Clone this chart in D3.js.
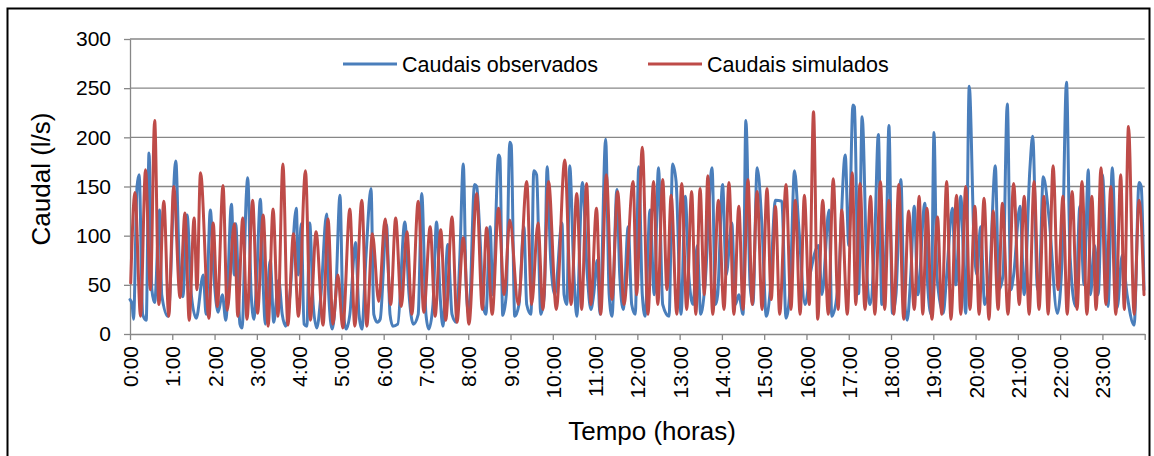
<!DOCTYPE html>
<html>
<head>
<meta charset="utf-8">
<script src="https://cdn.jsdelivr.net/npm/d3@7"></script>
<style>
  html, body { margin: 0; padding: 0; background: #fff; }
  svg { display: block; font-family: "Liberation Sans", Arial, sans-serif; }
</style>
</head>
<body>
<svg id="chart" width="1154" height="456"></svg>
<script>
// Flow series: [minute of day, flow in l/s] at successive turning points
const observados = [[0,35],[3,30],[5,15],[10,150],[13,162],[18,20],[23,14],[27,184],[31,45],[35,32],[42,126],[45,40],[54,18],[65,176],[70,70],[75,38],[81,121],[87,40],[94,16],[104,60],[108,20],[114,126],[119,60],[125,22],[131,40],[136,14],[144,132],[148,60],[150,112],[156,10],[159,6],[165,140],[167,159],[172,40],[176,15],[180,60],[185,137],[189,50],[192,10],[199,75],[204,12],[211,55],[216,20],[221,8],[227,40],[236,128],[239,60],[243,112],[247,10],[251,8],[255,113],[260,30],[265,6],[271,40],[279,122],[282,40],[287,5],[292,40],[298,141],[302,30],[307,5],[312,20],[320,93],[325,20],[329,5],[335,80],[342,148],[346,20],[351,12],[355,15],[364,111],[369,20],[373,8],[380,10],[390,114],[396,40],[402,10],[409,20],[414,143],[420,20],[424,5],[430,30],[435,114],[440,40],[444,8],[451,91],[457,20],[463,12],[468,77],[473,173],[477,50],[481,19],[489,152],[492,150],[497,94],[501,30],[505,20],[511,109],[515,40],[523,182],[525,179],[529,19],[534,40],[539,195],[541,192],[546,18],[552,30],[559,109],[563,30],[569,20],[573,166],[577,162],[583,20],[588,40],[592,170],[597,75],[603,40],[613,113],[616,40],[620,30],[624,171],[630,60],[634,18],[642,154],[649,60],[654,25],[658,40],[663,75],[667,20],[675,198],[680,40],[684,18],[691,147],[695,60],[700,25],[707,109],[712,30],[717,20],[722,170],[727,40],[731,18],[738,126],[744,40],[750,169],[756,30],[765,18],[770,173],[775,155],[782,20],[788,140],[793,60],[799,30],[805,90],[810,20],[816,50],[826,169],[831,30],[834,40],[841,152],[846,60],[854,113],[859,30],[864,40],[870,20],[874,217],[880,50],[884,30],[890,169],[897,108],[903,18],[908,40],[916,136],[925,135],[931,16],[937,50],[943,166],[949,110],[958,30],[965,60],[977,90],[982,40],[992,126],[996,18],[1005,50],[1015,182],[1020,90],[1026,233],[1028,231],[1034,41],[1039,221],[1046,58],[1050,30],[1057,100],[1062,203],[1067,30],[1074,120],[1077,212],[1082,21],[1087,40],[1094,157],[1098,50],[1103,14],[1108,60],[1113,130],[1118,40],[1128,133],[1132,50],[1137,20],[1141,205],[1145,60],[1154,21],[1159,60],[1167,128],[1172,50],[1179,140],[1186,21],[1191,252],[1198,89],[1202,60],[1207,109],[1213,30],[1220,60],[1228,171],[1233,45],[1239,60],[1245,234],[1250,45],[1254,60],[1263,130],[1269,40],[1277,167],[1281,201],[1288,45],[1291,60],[1296,160],[1304,120],[1316,21],[1323,80],[1329,256],[1334,80],[1342,28],[1348,130],[1354,50],[1360,167],[1363,40],[1369,90],[1374,40],[1380,162],[1388,28],[1394,169],[1401,27],[1408,80],[1415,40],[1425,9],[1432,154],[1435,150],[1439,45]];

const simulados = [[1,52],[7,144],[15,18],[22,167],[29,45],[35,217],[41,30],[48,135],[55,18],[62,150],[71,37],[78,123],[84,14],[91,118],[95,45],[100,164],[112,16],[118,113],[124,28],[132,151],[138,24],[148,112],[153,18],[160,118],[166,15],[174,136],[181,21],[189,121],[196,8],[203,127],[210,18],[217,173],[224,9],[232,102],[239,18],[249,166],[256,14],[264,104],[274,9],[281,117],[288,10],[295,60],[302,6],[312,127],[319,8],[329,136],[336,8],[344,102],[353,33],[362,117],[370,30],[377,118],[385,28],[393,104],[400,20],[409,135],[417,22],[426,109],[433,18],[441,106],[448,14],[457,119],[464,12],[473,98],[481,10],[492,143],[500,25],[506,108],[514,20],[523,128],[531,40],[539,116],[551,30],[563,155],[570,30],[579,113],[586,25],[594,155],[605,25],[617,177],[626,30],[634,143],[641,25],[648,153],[654,30],[662,128],[668,20],[676,162],[684,35],[692,145],[701,30],[714,155],[719,40],[727,190],[735,20],[743,155],[749,30],[756,157],[762,45],[768,141],[776,20],[783,153],[790,25],[797,145],[803,20],[809,148],[815,40],[820,161],[827,20],[835,136],[843,25],[850,154],[857,20],[864,130],[870,25],[877,157],[883,30],[890,145],[897,25],[904,148],[910,35],[916,130],[922,20],[931,152],[938,25],[944,136],[951,20],[957,141],[964,30],[970,226],[976,15],[983,136],[991,20],[998,158],[1005,25],[1010,126],[1018,20],[1025,164],[1030,30],[1036,153],[1043,25],[1051,140],[1057,20],[1065,155],[1071,25],[1077,136],[1084,20],[1091,152],[1098,15],[1105,125],[1113,25],[1120,140],[1125,20],[1131,128],[1138,15],[1146,119],[1152,20],[1159,155],[1165,15],[1173,141],[1179,20],[1186,150],[1192,25],[1199,130],[1205,20],[1212,138],[1219,15],[1225,125],[1232,25],[1238,133],[1246,20],[1254,153],[1262,30],[1269,140],[1276,20],[1283,155],[1290,25],[1297,140],[1303,20],[1310,171],[1317,45],[1324,140],[1330,20],[1337,145],[1344,25],[1351,155],[1358,20],[1365,140],[1371,25],[1378,169],[1385,30],[1392,150],[1399,20],[1406,162],[1411,25],[1417,211],[1425,20],[1432,136],[1439,40]];

const hourLabels = ["0:00","1:00","2:00","3:00","4:00","5:00","6:00","7:00","8:00","9:00","10:00","11:00","12:00","13:00","14:00","15:00","16:00","17:00","18:00","19:00","20:00","21:00","22:00","23:00"];
const flowTicks = [0, 50, 100, 150, 200, 250, 300];
const seriesNames = ["Caudais observados", "Caudais simulados"];
const seriesColors = ["#4A7EBB", "#BE4B48"];

const svg = d3.select("#chart");
const plot = { left: 130, right: 1144.7, top: 39, bottom: 334 };
const gridColor = "#878787";
const fontSmall = 21;

const x = d3.scaleLinear().domain([0, 1440]).range([plot.left, plot.right]);
const y = d3.scaleLinear().domain([0, 300]).range([plot.bottom, plot.top]);

// frame around the whole figure
svg.append("rect")
  .attr("x", 7.5).attr("y", 8.5)
  .attr("width", 1142).attr("height", 470)
  .attr("fill", "none").attr("stroke", "#000").attr("stroke-width", 2);

// horizontal gridlines
svg.append("g").selectAll("line")
  .data(flowTicks.filter(d => d > 0))
  .join("line")
  .attr("x1", plot.left).attr("x2", plot.right)
  .attr("y1", d => y(d)).attr("y2", d => y(d))
  .attr("stroke", gridColor).attr("stroke-width", 1.3);

// y axis
const yAxis = svg.append("g")
  .attr("transform", `translate(${plot.left},0)`)
  .call(d3.axisLeft(y).tickValues(flowTicks).tickSize(6).tickSizeOuter(0).tickPadding(13));
yAxis.select(".domain").attr("stroke", gridColor).attr("stroke-width", 1.3);
yAxis.selectAll(".tick line").attr("stroke", gridColor).attr("stroke-width", 1.3);
yAxis.selectAll(".tick text")
  .attr("font-size", fontSmall).attr("fill", "#000")
  .attr("font-family", "'Liberation Sans', Arial, sans-serif");

// x axis, one tick per hour
const hourTicks = d3.range(0, 25).map(h => h * 60);
const xAxis = svg.append("g")
  .attr("transform", `translate(0,${plot.bottom})`)
  .call(d3.axisBottom(x).tickValues(hourTicks).tickSize(6).tickSizeOuter(0)
    .tickFormat(d => (d / 60 < hourLabels.length ? hourLabels[d / 60] : "")));
xAxis.select(".domain").attr("stroke", gridColor).attr("stroke-width", 1.3);
xAxis.selectAll(".tick line").attr("stroke", gridColor).attr("stroke-width", 1.3);
xAxis.selectAll(".tick text")
  .attr("font-size", fontSmall).attr("fill", "#000")
  .attr("font-family", "'Liberation Sans', Arial, sans-serif")
  .attr("text-anchor", "end")
  .attr("transform", "rotate(-90)")
  .attr("x", -12).attr("y", 0).attr("dy", "0.36em");

// axis titles
svg.append("text")
  .attr("transform", "translate(50,179) rotate(-90)")
  .attr("text-anchor", "middle")
  .attr("font-size", 26).attr("fill", "#000")
  .text("Caudal (l/s)");
svg.append("text")
  .attr("x", 652).attr("y", 440)
  .attr("text-anchor", "middle")
  .attr("font-size", 26).attr("fill", "#000")
  .text("Tempo (horas)");

// series lines
const line = d3.line()
  .x(d => x(d[0]))
  .y(d => y(d[1]))
  .curve(d3.curveMonotoneX);

[observados, simulados].forEach((series, i) => {
  svg.append("path")
    .datum(series)
    .attr("d", line)
    .attr("fill", "none")
    .attr("stroke", seriesColors[i])
    .attr("stroke-width", 3)
    .attr("stroke-linejoin", "round")
    .attr("stroke-linecap", "round");
});

// legend
const legendX = [343, 648];
seriesNames.forEach((name, i) => {
  const g = svg.append("g");
  g.append("line")
    .attr("x1", legendX[i]).attr("x2", legendX[i] + 54)
    .attr("y1", 64).attr("y2", 64)
    .attr("stroke", seriesColors[i]).attr("stroke-width", 3);
  g.append("text")
    .attr("x", legendX[i] + 59).attr("y", 64)
    .attr("dy", "0.35em")
    .attr("font-size", 21.5).attr("fill", "#000")
    .text(name);
});
</script>
</body>
</html>
